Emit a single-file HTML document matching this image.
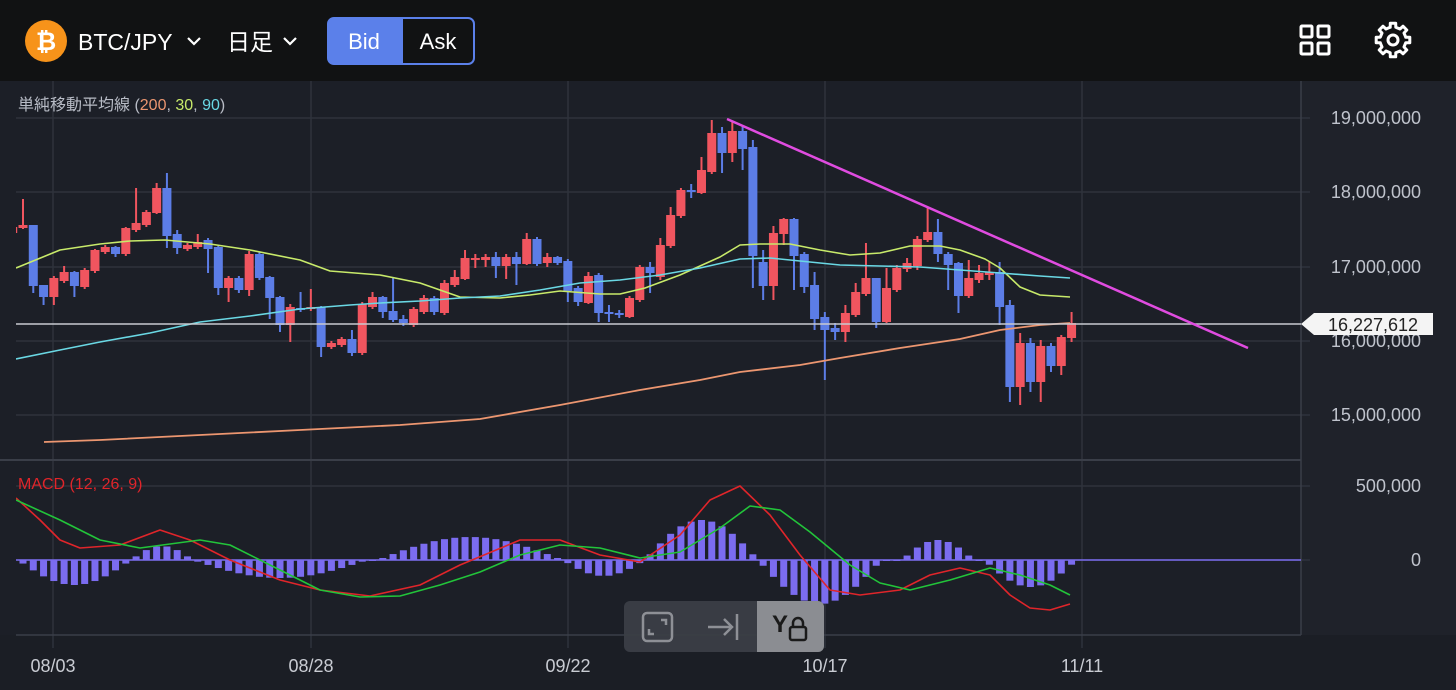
<!DOCTYPE html>
<html><head><meta charset="utf-8">
<style>
html,body{margin:0;padding:0;background:#1b1e25;width:1456px;height:690px;overflow:hidden;font-family:"Liberation Sans","Noto Sans CJK JP",sans-serif;}
#hdr{position:absolute;left:0;top:0;width:1456px;height:81px;background:#111213;}
svg{position:absolute;left:0;top:0}
</style></head><body>
<div id="hdr"></div>
<svg id="s" width="1456" height="690" xmlns="http://www.w3.org/2000/svg"></svg>
<script>
const s=document.getElementById('s');
let h='';
h+='<rect x="0" y="81" width="1456" height="609" fill="#1c1f27"/>';
h+='<rect x="1301" y="81" width="155" height="554" fill="#1f222a"/>';
h+='<rect x="0" y="635" width="1456" height="55" fill="#1b1e25"/>';
[53,311,568,825,1082].forEach(x=>h+=`<line x1="${x}" y1="81" x2="${x}" y2="648" stroke="#2e323c" stroke-width="1.5"/>`);
[118,192,267,341,415,486,560].forEach(y=>h+=`<line x1="16" y1="${y}" x2="1310" y2="${y}" stroke="#2e323c" stroke-width="1.5"/>`);
h+='<line x1="0" y1="460" x2="1301" y2="460" stroke="#3a3e48" stroke-width="2"/>';
h+='<line x1="1301" y1="81" x2="1301" y2="635" stroke="#3a3e48" stroke-width="1.5"/>';
h+='<line x1="16" y1="635" x2="1301" y2="635" stroke="#3a3e48" stroke-width="1.5"/>';
h+='<line x1="16" y1="560" x2="1301" y2="560" stroke="#7b6cf0" stroke-width="1.5"/>';
[['19,000,000',118],['18,000,000',192],['17,000,000',267],['16,000,000',341],['15,000,000',415],['500,000',486],['0',560]].forEach(([t,y])=>{
 h+=`<text x="1421" y="${y+6}" text-anchor="end" font-size="18" fill="#bfc3cc">${t}</text>`;});
[['08/03',53],['08/28',311],['09/22',568],['10/17',825],['11/11',1082]].forEach(([t,x])=>h+=`<text x="${x}" y="672" text-anchor="middle" font-size="18" fill="#c9ccd3">${t}</text>`);
const C=[[233,227],[228,225,199,229],[225,286,225,293],[285,297,285,305],[297,278,276,305],[281,272,266,283],[272,286,271,297],[287,270,268,289],[271,250,249,273],[252,247,245,254],[247,254,246,257],[254,228,227,256],[230,223,188,232],[225,212,210,227],[213,188,183,214],[188,236,173,248],[234,248,230,254],[249,245,243,251],[247,242,234,249],[240,249,238,273],[247,288,246,295],[288,278,276,302],[278,290,276,293],[290,254,251,296],[254,278,252,280],[277,298,276,319],[297,325,296,332],[325,307,304,342],[308,310,292,312],[309,307,289,311],[307,347,306,357],[347,343,341,349],[345,339,337,347],[339,353,330,356],[353,304,302,355],[307,297,292,309],[297,312,296,318],[311,320,277,322],[319,323,315,326],[325,309,307,327],[312,298,295,314],[298,312,296,315],[313,283,280,315],[285,277,270,287],[279,258,250,280],[260,258,254,268],[260,257,254,267],[257,266,252,278],[266,257,254,279],[257,264,252,285],[264,239,233,265],[239,264,237,266],[263,257,253,267],[257,263,256,265],[261,291,259,302],[288,302,286,306],[303,276,272,304],[275,313,273,322],[312,314,305,322],[313,315,310,318],[317,298,296,318],[300,267,265,302],[267,273,262,293],[277,245,238,280],[246,215,207,248],[216,190,188,218],[190,192,184,198],[193,170,157,194],[172,133,120,174],[133,153,127,173],[153,131,122,162],[131,149,125,170],[147,256,140,288],[262,286,250,300],[286,233,226,300],[234,219,218,245],[219,256,218,290],[254,287,252,293],[285,319,272,330],[317,330,312,380],[328,332,323,340],[332,313,305,342],[315,292,283,317],[294,278,243,296],[278,322,278,328],[322,288,268,323],[290,268,265,292],[269,263,258,272],[266,239,236,270],[240,232,207,242],[232,254,219,262],[254,265,252,290],[263,296,262,313],[296,278,260,298],[280,273,265,283],[275,272,262,280],[272,307,262,325],[305,387,300,402],[387,343,333,405],[343,382,338,392],[382,346,340,402],[346,366,343,372],[366,337,335,375],[338,323,312,342]];
h+='<defs><clipPath id="cp"><rect x="16" y="81" width="1285" height="379"/></clipPath><clipPath id="cm"><rect x="16" y="460" width="1285" height="175"/></clipPath></defs><g clip-path="url(#cp)">';
C.forEach((c,k)=>{const i=k-1;const x=23+10.28*i;let [o,cl,hi,lo]=c;if(hi===undefined){hi=Math.min(o,cl)-3;lo=Math.max(o,cl)+3;}
 const col=cl<o?'#f0555f':'#5c7de6';const t=Math.min(o,cl),b=Math.max(o,cl,t+2);
 h+=`<line x1="${x}" y1="${hi}" x2="${x}" y2="${lo}" stroke="${col}" stroke-width="2"/><rect x="${x-4.5}" y="${t}" width="9" height="${b-t}" fill="${col}"/>`;});
function pl(pts,col,w){return `<polyline fill="none" stroke="${col}" stroke-width="${w}" stroke-linejoin="round" points="${pts.map(p=>p.join(',')).join(' ')}"/>`;}
h+=pl([[16,268],[60,250],[100,244],[130,241],[165,240],[210,244],[250,250],[300,260],[330,271],[380,275],[420,283],[460,297],[500,298],[530,295],[560,291],[600,294],[620,294],[645,288],[680,275],[720,257],[740,245],[760,244],[790,244],[820,250],[850,255],[880,253],[910,246],[940,246],[960,250],[985,259],[1000,268],[1020,287],[1040,295],[1070,297]],'#c8ea6a',1.6);
h+=pl([[16,359],[60,350],[100,342],[150,333],[200,322],[250,316],[300,309],[350,305],[380,303],[420,301],[460,298],[500,296],[540,290],[580,283],[620,280],[660,275],[700,268],[740,259],[770,258],[800,261],[840,265],[880,266],[920,267],[960,270],[1000,273],[1040,276],[1070,278]],'#6ad8e4',1.6);
h+=pl([[44,442],[100,440],[200,435],[300,430],[400,425],[480,419],[560,405],[640,390],[700,380],[740,372],[800,365],[840,358],[900,348],[960,339],[1000,330],[1040,325],[1070,323]],'#ec9670',1.8);
h+='</g>';
h+='<line x1="16" y1="324" x2="1301" y2="324" stroke="#c8cad0" stroke-width="1.5"/>';
h+='<line x1="727" y1="119" x2="1248" y2="348" stroke="#e04ce0" stroke-width="2.5"/>';
h+='<path d="M1301,324 L1314,313 H1433 V335 H1314 Z" fill="#f4f4f4"/><text x="1373" y="331" text-anchor="middle" font-size="18" fill="#222">16,227,612</text>';
const HV={};
function seg(a,b,peak){for(let i=a;i<=b;i++){const t=(i-a+0.5)/(b-a+1);HV[i]=peak*Math.sin(Math.PI*t);}}
seg(0,10,25);seg(11,16,-14);seg(17,33,18);seg(35,52,-23);seg(53,60,16);seg(61,71,-40);seg(72,83,44);seg(86,92,-20);seg(94,102,27);
h+='<g clip-path="url(#cm)">';
for(let i=0;i<=102;i++){const v=HV[i]||1;const x=23+10.28*i;const y=v>0?560:560+v;h+=`<rect x="${x-3.5}" y="${y}" width="7" height="${Math.abs(v)}" fill="#7b6cf0"/>`;}
h+=pl([[16,498],[40,520],[60,540],[80,548],[120,545],[160,530],[190,540],[230,560],[280,580],[320,590],[370,596],[420,585],[460,565],[520,540],[560,540],[600,555],[640,562],[680,535],[710,500],[740,486],[770,515],[800,555],[830,590],[860,595],[900,590],[930,575],[960,568],[990,575],[1010,595],[1030,608],[1050,610],[1070,604]],'#e0252a',1.6);
h+=pl([[16,500],[60,520],[100,540],[140,548],[200,540],[230,545],[280,570],[320,590],[360,597],[400,596],[440,585],[480,572],[520,555],[560,545],[600,548],[640,558],[680,552],[720,528],[750,506],[780,510],[810,532],[850,565],[880,583],[910,590],[950,580],[990,568],[1020,575],[1050,585],[1070,595]],'#22c43a',1.6);
h+='</g>';
h+='<text x="18" y="110" font-size="16" fill="#b8bcc6">単純移動平均線 (<tspan fill="#ec9670">200</tspan>, <tspan fill="#c8ea6a">30</tspan>, <tspan fill="#6ad8e4">90</tspan>)</text>';
h+='<text x="18" y="489" font-size="16" fill="#e0252a">MACD (12, 26, 9)</text>';
h+='<rect x="624" y="601" width="200" height="51" rx="6" fill="#3b3e46" opacity="0.95"/><path d="M757,601 H818 a6,6 0 0 1 6,6 V646 a6,6 0 0 1 -6,6 H757 Z" fill="#8b8d92"/>';
h+='<rect x="643" y="613" width="29" height="28" rx="4" fill="none" stroke="#8e9096" stroke-width="2.5"/><path d="M649,629 v5 h5 M661,620 h5 v5" fill="none" stroke="#8e9096" stroke-width="2.5"/>';
h+='<path d="M708,627 h24 M724,619 l8,8 -8,8 M737,614 v26" fill="none" stroke="#8e9096" stroke-width="2.5"/>';
h+='<text x="772" y="632" font-size="24" fill="#1a1a1a" font-weight="bold">Y</text><rect x="790" y="627" width="16" height="13" rx="2" fill="none" stroke="#1a1a1a" stroke-width="2.5"/><path d="M793,627 v-4 a5,5 0 0 1 10,0 v4" fill="none" stroke="#1a1a1a" stroke-width="2.5"/>';
h+='<circle cx="46" cy="41" r="21" fill="#f7931a"/><text x="46" y="50" text-anchor="middle" font-size="25" font-weight="bold" fill="#fff">₿</text>';
h+='<text x="78" y="50" font-size="23" fill="#fff">BTC/JPY</text><path d="M188,38 l6,6 6,-6" fill="none" stroke="#fff" stroke-width="2.2"/>';
h+='<text x="227" y="50" font-size="23" fill="#fff">日足</text><path d="M284,38 l6,6 6,-6" fill="none" stroke="#fff" stroke-width="2.2"/>';
h+='<rect x="328" y="18" width="146" height="46" rx="6" fill="#111213" stroke="#5b80ea" stroke-width="2"/><path d="M334,18 H403 V64 H334 a6,6 0 0 1 -6,-6 V24 a6,6 0 0 1 6,-6Z" fill="#5b80ea"/>';
h+='<text x="364" y="49" text-anchor="middle" font-size="22" fill="#fff">Bid</text><text x="438" y="49" text-anchor="middle" font-size="22" fill="#fff">Ask</text>';
h+='<g fill="none" stroke="#fff" stroke-width="3" stroke-linejoin="round"><rect x="1301" y="26" width="11" height="11" rx="1"/><rect x="1318" y="26" width="11" height="11" rx="1"/><rect x="1301" y="43" width="11" height="11" rx="1"/><rect x="1318" y="43" width="11" height="11" rx="1"/>';
let gp=[];const cx=1393,cy=40;
for(let k=0;k<8;k++){const a0=k*Math.PI/4;[[-0.22,13],[-0.16,17],[0.16,17],[0.22,13],[0.56,13]].forEach(([d,r])=>gp.push([cx+r*Math.cos(a0+d),cy+r*Math.sin(a0+d)]));}
h+=`<polygon points="${gp.map(p=>p[0].toFixed(1)+','+p[1].toFixed(1)).join(' ')}"/><circle cx="${cx}" cy="${cy}" r="5"/></g>`;
s.innerHTML=h;
</script>
</body></html>
